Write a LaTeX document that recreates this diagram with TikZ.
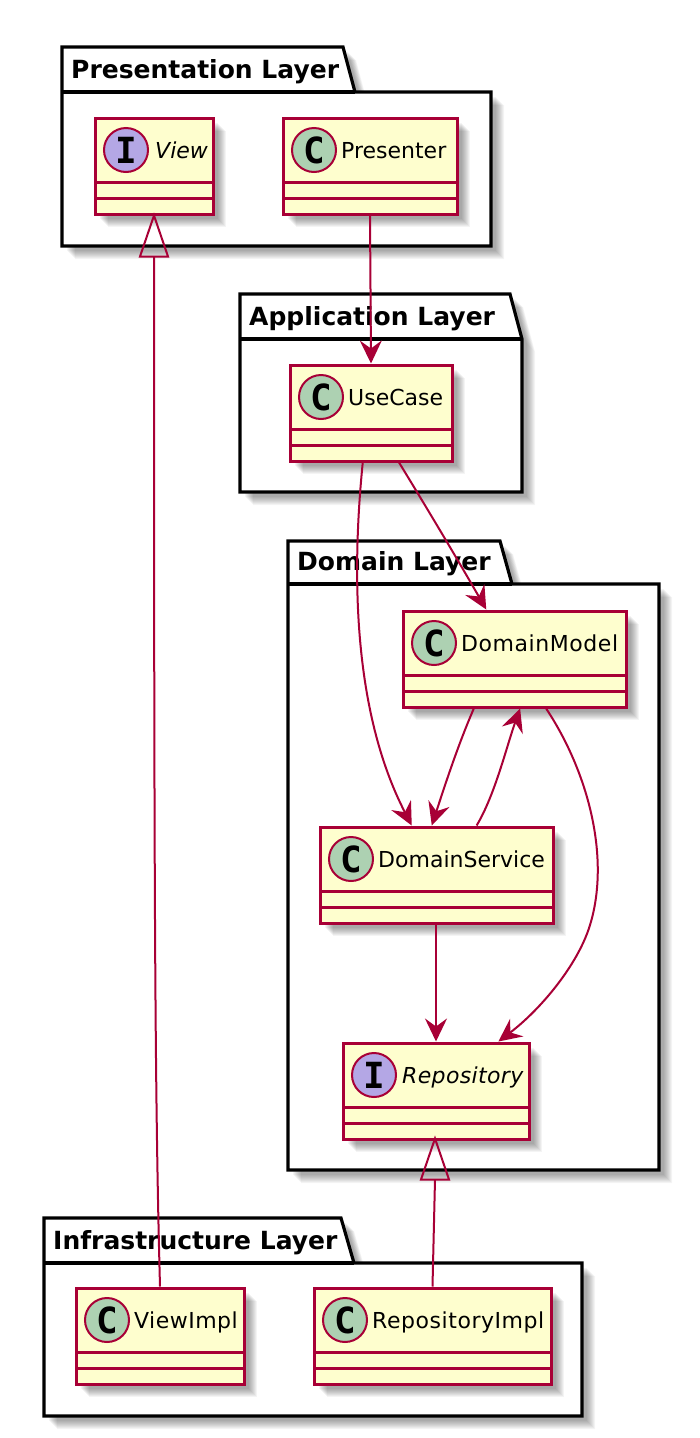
\documentclass[tikz,border=0pt]{standalone}
\usepackage{fontspec}
\setmainfont{DejaVu Sans}
\newfontfamily\badgefont{DejaVu Sans Mono}
\usetikzlibrary{arrows.meta,calc}
\definecolor{umlred}{HTML}{A80036}
\definecolor{umlyellow}{HTML}{FEFECE}
\definecolor{umlgreen}{HTML}{ADD1B2}
\definecolor{umlpurple}{HTML}{B4A7E5}
\tikzset{
  x=1pt,y=-1pt,
  softshadow/.style={fill=black,fill opacity=0.045,draw=none},
  pkgline/.style={draw=black,line width=3.2pt,fill=white,line join=miter},
  pkgtitle/.style={anchor=base west,inner sep=0pt,font=\fontsize{25}{30}\selectfont\bfseries,text=black},
  classbox/.style={rectangle,draw=umlred,line width=3pt,fill=umlyellow,inner sep=0pt},
  classname/.style={anchor=base west,inner sep=0pt,font=\fontsize{22}{26}\selectfont,text=black},
  sep/.style={draw=umlred,line width=3pt},
  badge/.style={circle,draw=umlred,line width=2pt,minimum size=44pt,inner sep=0pt,font=\fontsize{36}{36}\selectfont\badgefont\bfseries,text=black},
  cbadge/.style={badge,fill=umlgreen},
  ibadge/.style={badge,fill=umlpurple},
  assoc/.style={draw=umlred,line width=2pt,-{Stealth[length=23pt,width=22pt,inset=8pt]}},
  impl/.style={draw=umlred,line width=2pt},
  hollow/.style={draw=umlred,line width=2pt,fill=none,line join=miter}
}
% soft drop shadow of a rectangle
\newcommand{\softrect}[4]{%
  \foreach \g in {5,6,...,13}{%
    \fill[softshadow] (#1+\g,#2+\g) rectangle (#3+\g,#4+\g);}}
% package: x0, ytop, tabright, slantend, headerY, xright, ybottom, name
\newcommand{\umlpkg}[8]{%
  \foreach \g in {5,6,...,13}{%
    \fill[softshadow] (#1+\g,#2+\g) -- (#3+\g,#2+\g) -- (#4+\g,#5+\g) -- (#6+\g,#5+\g) -- (#6+\g,#7+\g) -- (#1+\g,#7+\g) -- cycle;}
  \draw[pkgline] (#1,#2) -- (#3,#2) -- (#4,#5) -- (#6,#5) -- (#6,#7) -- (#1,#7) -- cycle;
  \draw[pkgline,fill=none] (#1,#5) -- (#4,#5);
  \node[pkgtitle] at (#1+9,#5-14) {#8};}
% class: name, x0, y0, x1, y1, badge style, badge letter, label
\newcommand{\umlclass}[8]{%
  \softrect{#2}{#3}{#4}{#5}
  \node[classbox,minimum width=#4pt-#2pt,minimum height=#5pt-#3pt] (#1) at ({(#2+#4)/2},{(#3+#5)/2}) {};
  \draw[sep] (#2,#3+64) -- (#4,#3+64);
  \draw[sep] (#2,#3+80) -- (#4,#3+80);
  \node[#6] (#1badge) at (#2+31,#3+32) {#7};
  \node[classname] (#1label) at (#2+58,#3+40) {#8};}
\begin{document}
\begin{tikzpicture}
\useasboundingbox (0,0) rectangle (700,1438);
\umlpkg{62}{47}{343}{355}{92}{491}{246}{Presentation Layer}
\umlpkg{240}{294}{510}{522}{339}{522}{492}{Application Layer}
\umlpkg{288}{541}{500}{512}{584}{659}{1170}{Domain Layer}
\umlpkg{44}{1218}{341}{354}{1263}{582}{1416}{Infrastructure Layer}

\umlclass{view}{95}{118}{213}{214}{ibadge}{I}{\hspace{2pt}\itshape View}
\umlclass{presenter}{283}{118}{457}{214}{cbadge}{C}{Presenter}
\umlclass{usecase}{290}{365}{452}{461}{cbadge}{C}{UseCase}
\umlclass{model}{403}{611}{626}{707}{cbadge}{C}{\addfontfeature{LetterSpace=2.5}DomainModel}
\umlclass{service}{320}{827}{553}{923}{cbadge}{C}{DomainService}
\umlclass{repo}{343}{1043}{529}{1139}{ibadge}{I}{\hspace{1pt}\itshape\addfontfeature{LetterSpace=1.6}Repository}
\umlclass{viewimpl}{76}{1288}{244}{1384}{cbadge}{C}{\addfontfeature{LetterSpace=2.2}ViewImpl}
\umlclass{repoimpl}{314}{1288}{551}{1384}{cbadge}{C}{\addfontfeature{LetterSpace=2.5}RepositoryImpl}

\draw[assoc] (presenter.south) -- (usecase.north);
\draw[assoc] ($(usecase.south west)!0.67!(usecase.south east)$) .. controls (425,505) and (455,555) .. ($(model.north west)!0.375!(model.north east)$);
\draw[assoc] ($(usecase.south west)!0.45!(usecase.south east)$) .. controls (352,570) and (352,710) .. ($(service.north west)!0.395!(service.north east)$);
\draw[assoc] ($(model.south west)!0.32!(model.south east)$) .. controls (458,745) and (445,785) .. ($(service.north west)!0.48!(service.north east)$);
\draw[assoc] ($(service.north west)!0.67!(service.north east)$) .. controls (495,795) and (507,745) .. ($(model.south west)!0.525!(model.south east)$);
\draw[assoc] ($(model.south west)!0.64!(model.south east)$) .. controls (590,775) and (610,860) .. (590,925) .. controls (578,965) and (540,1010) .. ($(repo.north west)!0.83!(repo.north east)$);
\draw[assoc] (service.south -| repo.north) -- (repo.north);

\coordinate (viewtip) at (view.south);
\coordinate (viewbase) at ($(viewtip)+(0,41)$);
\draw[impl] (viewimpl.north) .. controls (155,1100) and (154,900) .. (viewbase);
\draw[hollow] (viewtip) -- ($(viewbase)+(-14,0)$) -- ($(viewbase)+(14,0)$) -- cycle;
\coordinate (repotip) at ($(repo.south)+(-1,-2)$);
\coordinate (repobase) at ($(repotip)+(0,41)$);
\draw[impl] (repoimpl.north) -- (repobase);
\draw[hollow] (repotip) -- ($(repobase)+(-14,0)$) -- ($(repobase)+(14,0)$) -- cycle;
\end{tikzpicture}
\end{document}
